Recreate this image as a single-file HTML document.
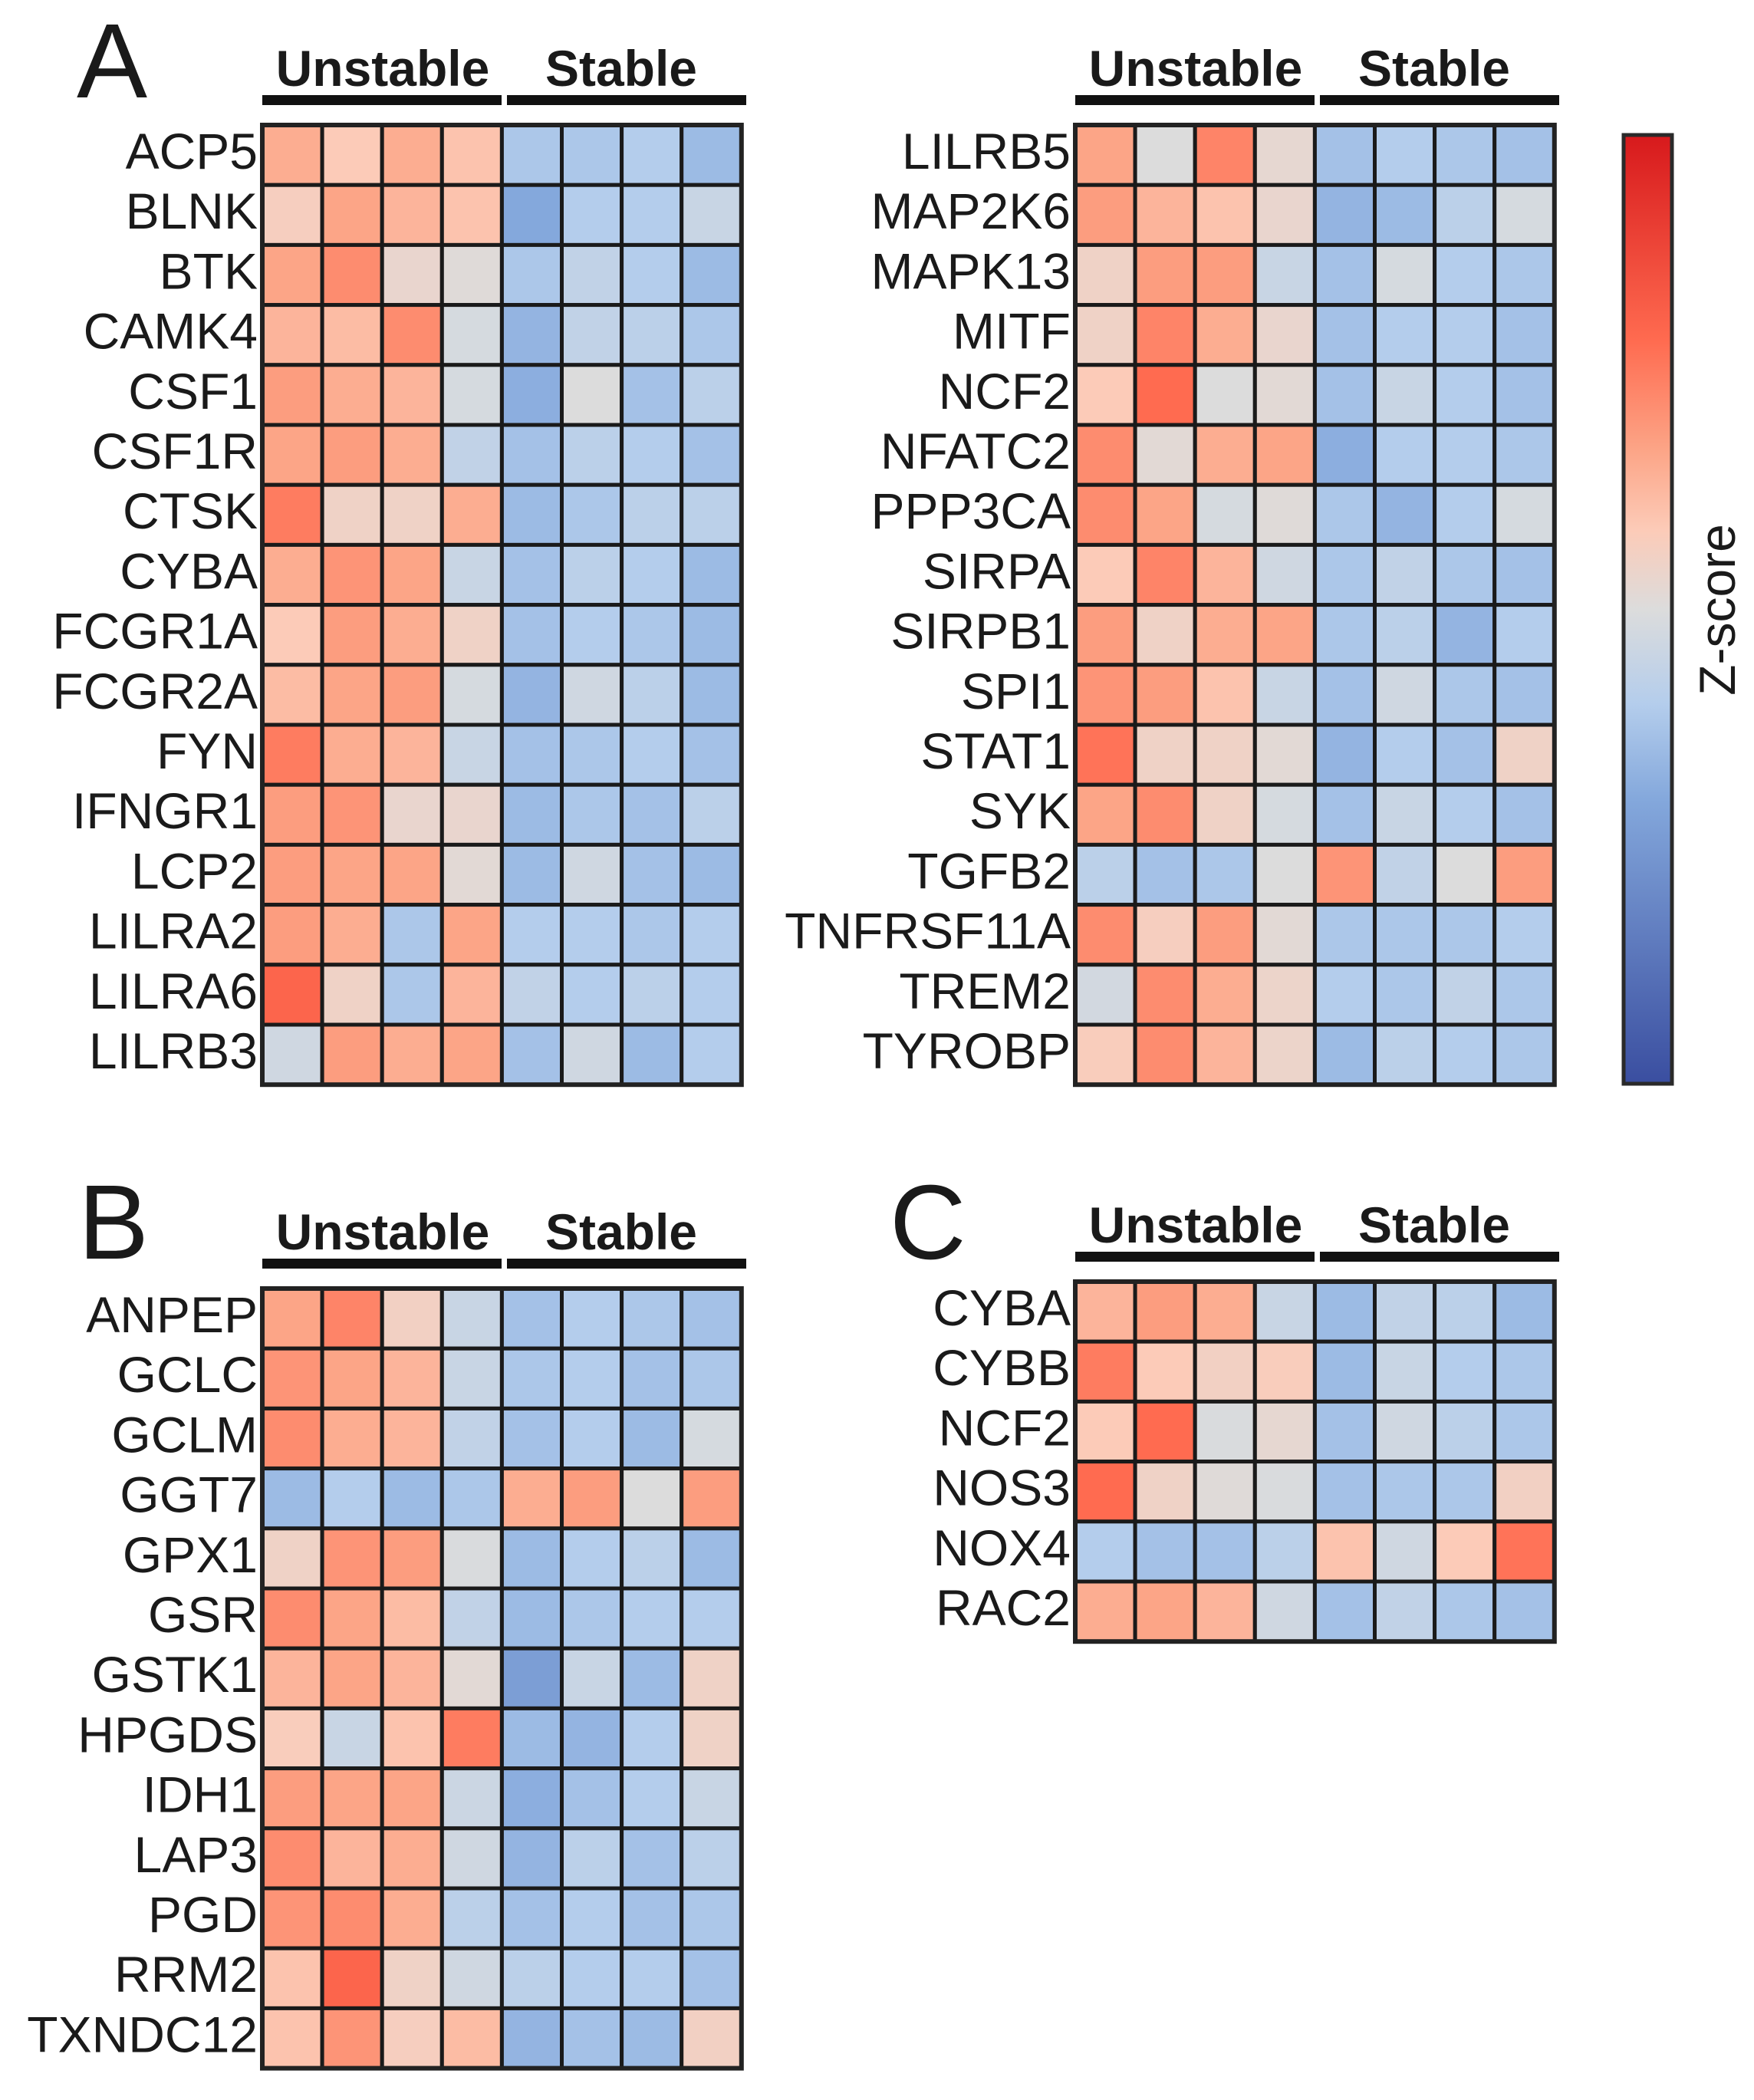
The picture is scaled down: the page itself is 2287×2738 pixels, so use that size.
<!DOCTYPE html>
<html><head><meta charset="utf-8"><style>
html,body{margin:0;padding:0;background:#fff;}
svg{display:block;}
text{font-family:"Liberation Sans",Arial,sans-serif;fill:#1a1a1a;}
</style></head><body>
<svg id="fig" width="2287" height="2738" viewBox="0 0 2287 2738" xmlns="http://www.w3.org/2000/svg">
<defs>
<linearGradient id="cbgrad" x1="0" y1="1" x2="0" y2="0">
<stop offset="0" stop-color="#3a4ea0"/>
<stop offset="0.3" stop-color="#84a8dc"/>
<stop offset="0.4" stop-color="#b4cdec"/>
<stop offset="0.5" stop-color="#dcdcdc"/>
<stop offset="0.583" stop-color="#fccbb8"/>
<stop offset="0.667" stop-color="#fca587"/>
<stop offset="0.783" stop-color="#ff6b50"/>
<stop offset="1" stop-color="#d7191c"/>
</linearGradient>
</defs>
<g id="layer"></g>
</svg>
<script>
const groups = ["Unstable","Stable"];
const genesA1 = ["ACP5","BLNK","BTK","CAMK4","CSF1","CSF1R","CTSK","CYBA","FCGR1A","FCGR2A","FYN","IFNGR1","LCP2","LILRA2","LILRA6","LILRB3"];
const valuesA1 = [
[0.9,0.5,0.9,0.6,-0.7,-0.7,-0.6,-0.9],
[0.4,1.0,0.8,0.6,-1.2,-0.6,-0.6,-0.3],
[1.0,1.3,0.2,0.05,-0.7,-0.4,-0.6,-0.9],
[0.8,0.7,1.3,-0.1,-1.0,-0.4,-0.5,-0.7],
[1.1,0.9,0.8,-0.1,-1.1,0.0,-0.8,-0.5],
[1.0,1.1,0.9,-0.4,-0.8,-0.5,-0.6,-0.8],
[1.5,0.3,0.3,0.9,-0.9,-0.7,-0.5,-0.5],
[0.9,1.2,1.0,-0.3,-0.8,-0.5,-0.6,-0.9],
[0.5,1.1,0.9,0.3,-0.8,-0.6,-0.7,-0.9],
[0.7,1.0,1.1,-0.1,-1.0,-0.2,-0.5,-0.9],
[1.5,0.9,0.8,-0.3,-0.8,-0.7,-0.6,-0.8],
[1.1,1.2,0.2,0.2,-0.9,-0.7,-0.8,-0.5],
[1.1,1.0,1.0,0.1,-0.9,-0.2,-0.8,-0.9],
[1.1,0.9,-0.7,1.0,-0.6,-0.6,-0.7,-0.6],
[1.8,0.3,-0.7,0.8,-0.4,-0.6,-0.5,-0.6],
[-0.2,1.1,0.9,1.0,-0.8,-0.2,-0.9,-0.6]];
const genesA2 = ["LILRB5","MAP2K6","MAPK13","MITF","NCF2","NFATC2","PPP3CA","SIRPA","SIRPB1","SPI1","STAT1","SYK","TGFB2","TNFRSF11A","TREM2","TYROBP"];
const valuesA2 = [
[1.0,0.0,1.4,0.15,-0.8,-0.6,-0.7,-0.8],
[1.1,0.8,0.6,0.2,-1.0,-0.9,-0.5,-0.1],
[0.3,1.1,1.1,-0.3,-0.8,-0.1,-0.6,-0.7],
[0.3,1.4,0.9,0.2,-0.8,-0.6,-0.6,-0.8],
[0.5,1.7,0.0,0.1,-0.8,-0.3,-0.6,-0.8],
[1.3,0.1,0.9,1.0,-1.1,-0.6,-0.6,-0.7],
[1.3,1.0,-0.1,0.05,-0.7,-1.0,-0.6,-0.1],
[0.5,1.4,0.8,-0.2,-0.7,-0.4,-0.7,-0.8],
[1.1,0.3,0.9,1.0,-0.7,-0.5,-1.0,-0.6],
[1.2,1.1,0.6,-0.3,-0.8,-0.2,-0.7,-0.8],
[1.6,0.3,0.3,0.1,-1.0,-0.6,-0.8,0.3],
[1.0,1.3,0.3,-0.1,-0.8,-0.3,-0.6,-0.8],
[-0.5,-0.8,-0.7,0.0,1.2,-0.4,0.0,1.1],
[1.3,0.4,1.1,0.1,-0.7,-0.7,-0.7,-0.6],
[-0.15,1.3,0.9,0.25,-0.6,-0.7,-0.4,-0.7],
[0.45,1.3,0.8,0.25,-0.9,-0.5,-0.6,-0.7]];
const genesB = ["ANPEP","GCLC","GCLM","GGT7","GPX1","GSR","GSTK1","HPGDS","IDH1","LAP3","PGD","RRM2","TXNDC12"];
const valuesB = [
[1.0,1.4,0.35,-0.3,-0.8,-0.6,-0.7,-0.8],
[1.2,1.0,0.8,-0.3,-0.7,-0.6,-0.8,-0.7],
[1.3,0.9,0.8,-0.4,-0.8,-0.6,-0.9,-0.1],
[-0.9,-0.6,-0.9,-0.7,0.9,1.1,0.0,1.1],
[0.3,1.2,1.1,-0.05,-0.9,-0.6,-0.5,-0.9],
[1.3,1.0,0.7,-0.4,-0.9,-0.7,-0.6,-0.6],
[0.8,1.0,0.8,0.1,-1.4,-0.3,-0.9,0.3],
[0.45,-0.3,0.6,1.5,-0.9,-1.0,-0.6,0.3],
[1.1,1.0,1.0,-0.25,-1.1,-0.8,-0.6,-0.3],
[1.3,0.8,0.9,-0.2,-1.0,-0.5,-0.8,-0.5],
[1.2,1.3,0.9,-0.5,-0.8,-0.6,-0.8,-0.7],
[0.6,1.8,0.3,-0.2,-0.5,-0.6,-0.6,-0.8],
[0.6,1.2,0.4,0.7,-1.0,-0.8,-0.9,0.35]];
const genesC = ["CYBA","CYBB","NCF2","NOS3","NOX4","RAC2"];
const valuesC = [
[0.8,1.1,0.9,-0.3,-0.9,-0.4,-0.5,-0.9],
[1.5,0.5,0.35,0.45,-0.9,-0.3,-0.6,-0.7],
[0.5,1.7,-0.05,0.15,-0.8,-0.2,-0.5,-0.7],
[1.7,0.3,0.05,-0.05,-0.8,-0.7,-0.7,0.35],
[-0.6,-0.8,-0.8,-0.5,0.6,-0.2,0.5,1.6],
[0.9,1.0,0.8,-0.2,-0.8,-0.4,-0.7,-0.8]];

const NS="http://www.w3.org/2000/svg";
const layer=document.getElementById('layer');
const stops=[[-3,[58,78,160]],[-1.2,[132,168,220]],[-0.6,[180,205,236]],[0,[220,220,220]],[0.5,[252,203,184]],[1.0,[252,165,135]],[1.7,[255,107,80]],[3,[215,25,28]]];
function color(v){
  if(v<=stops[0][0]) return 'rgb('+stops[0][1]+')';
  for(let i=1;i<stops.length;i++){
    if(v<=stops[i][0]){
      const a=stops[i-1],b=stops[i];const t=(v-a[0])/(b[0]-a[0]);
      const c=a[1].map((x,k)=>Math.round(x+(b[1][k]-x)*t));
      return 'rgb('+c.join(',')+')';
    }
  }
  return 'rgb('+stops[stops.length-1][1]+')';
}
function el(tag,attrs,parent){const e=document.createElementNS(NS,tag);for(const k in attrs)e.setAttribute(k,attrs[k]);(parent||layer).appendChild(e);return e;}
const CW=78.1, RH=78.2;
function heatmap(name,genes,vals,L,T){
  const g=el('g',{});
  
  
  groups.forEach((gr,gi)=>{
    const t=el('text',{x:L+157+gi*311,y:T-51,'text-anchor':'middle','font-size':66,'font-weight':'bold'},g);
    t.textContent=gr;
    
    
    const b=el('rect',{x:L+gi*319,y:T-39,width:312,height:13,fill:'#111'},g);
    
    
  });
  genes.forEach((gn,r)=>{
    const t=el('text',{x:L-6,y:T+r*RH+57,'text-anchor':'end','font-size':66},g);
    t.textContent=gn;
    
    
    vals[r].forEach((v,c)=>{
      const rc=el('rect',{x:L+c*CW,y:T+r*RH,width:CW,height:RH,fill:color(v),stroke:'#1a1a1a','stroke-width':5},g);
      
      
    });
  });
  const o=el('rect',{x:L,y:T,width:CW*8,height:RH*genes.length,fill:'none',stroke:'#222','stroke-width':6},g);
  
  
}
heatmap('heatmap-a-left',genesA1,valuesA1,342,163);
heatmap('heatmap-a-right',genesA2,valuesA2,1402,163);
heatmap('heatmap-b',genesB,valuesB,342,1680);
heatmap('heatmap-c',genesC,valuesC,1402,1671);
function letter(s,x,y){const t=el('text',{x:x,y:y,'font-size':138},layer);t.textContent=s;
  
  }
letter('A',100,127);letter('B',102,1641);letter('C',1160,1641);
const cb=el('rect',{x:2117,y:176,width:63,height:1237,fill:'url(#cbgrad)',stroke:'#2a2a2a','stroke-width':5});


const zl=el('text',{x:0,y:0,'font-size':66,'text-anchor':'middle',transform:'translate(2262,795) rotate(-90)'});
zl.textContent='Z-score';


</script>
</body></html>
